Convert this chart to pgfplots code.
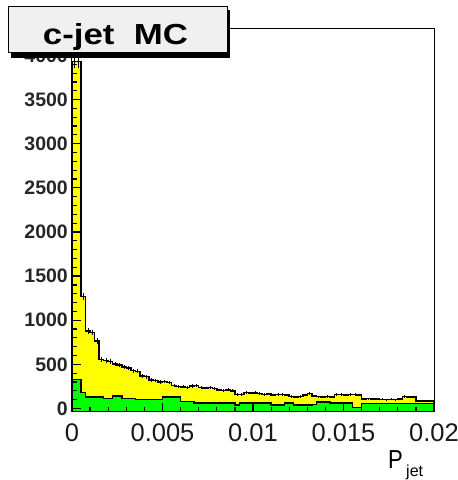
\documentclass[border=0pt]{standalone}
\usepackage{fontspec}
\setmainfont{Liberation Sans}
\usepackage{pgfplots}
\usepackage{pgfplotstable}
\pgfplotsset{compat=1.18}
\definecolor{rootyellow}{RGB}{255,255,0}
\definecolor{rootgreen}{RGB}{0,255,0}
\definecolor{boxgray}{RGB}{240,240,240}

\pgfplotstableread{
x y
0 -40
0 3930
0.00025 3930
0.0005 1270
0.00075 878
0.001 860
0.00125 765
0.0015 557
0.00175 545
0.002 530
0.00225 505
0.0025 495
0.00275 470
0.003 460
0.00325 430
0.0035 420
0.00375 370
0.004 360
0.00425 320
0.0045 315
0.00475 300
0.005 305
0.00525 295
0.0055 260
0.00575 250
0.006 245
0.00625 240
0.0065 255
0.00675 262
0.007 240
0.00725 232
0.0075 238
0.00775 228
0.008 210
0.00825 205
0.0085 212
0.00875 200
0.009 160
0.00925 158
0.0095 180
0.00975 175
0.01 178
0.01025 170
0.0105 160
0.01075 162
0.011 155
0.01125 160
0.0115 158
0.01175 150
0.012 135
0.01225 130
0.0125 136
0.01275 150
0.013 170
0.01325 140
0.0135 133
0.01375 130
0.014 135
0.01425 132
0.0145 160
0.01475 158
0.015 155
0.01525 160
0.0155 158
0.01575 150
0.016 110
0.01625 112
0.0165 108
0.01675 110
0.017 102
0.01725 100
0.0175 104
0.01775 100
0.018 105
0.01825 135
0.0185 132
0.01875 130
0.019 85
0.01925 83
0.0195 85
0.01975 82
0.02 -40
}\yellowdata

\pgfplotstableread{
x y
0 -40
0 330
0.0005 180
0.00075 130
0.00125 128
0.00175 115
0.00225 140
0.00275 115
0.0035 100
0.005 130
0.006 80
0.00675 64
0.009 38
0.00925 64
0.011 38
0.01175 64
0.01225 38
0.01325 45
0.0135 72
0.01425 64
0.0155 10
0.016 57
0.02 -40
}\greendata

\begin{document}
\begin{tikzpicture}
\useasboundingbox (0pt,0pt) rectangle (458pt,480pt);
\begin{axis}[
  at={(72pt,68pt)}, anchor=south west,
  width=362pt, height=383pt, scale only axis,
  xmin=0, xmax=0.02, ymin=-40, ymax=4300,
  axis on top,
  tick align=inside,
  xtick pos=left, ytick pos=left,
  xtick={0,0.005,0.01,0.015,0.02},
  xticklabels={0,0.005,0.01,0.015,0.02},
  ytick={0,500,...,4000},
  minor x tick num=4, minor y tick num=4,
  major tick length=9pt, minor tick length=5pt,
  scaled x ticks=false, scaled y ticks=false,
  /pgf/number format/assume math mode=true,
  /pgf/number format/1000 sep={},
  yticklabel style={font=\bfseries\fontsize{19.5}{19.5}\selectfont, anchor=east, inner sep=0pt, xshift=-4pt, text=black!85},
  xticklabel style={font=\fontsize{25.5}{25.5}\selectfont, anchor=north, inner sep=0pt, yshift=-11pt, text=black!90},
  axis line style={line width=1pt},
  every tick/.style={black, line width=1.2pt},
]
\addplot[const plot mark left, fill=rootyellow, draw=black, line width=1.5pt] table[x=x,y=y]{\yellowdata};
\addplot[draw=none, mark=none, forget plot, skip coords between index={0}{1}, skip coords between index={81}{82},
  error bars/.cd, y dir=both, y explicit, error mark=none,
  error bar style={draw=black, line width=0.6pt}]
  table[x expr=\thisrow{x}+0.000125, y=y, y error expr={1.1*sqrt(abs(\thisrow{y}))}]{\yellowdata};
\addplot[const plot mark left, fill=rootgreen, draw=black, line width=1.5pt] table[x=x,y=y]{\greendata};
\end{axis}
\fill[black] (11pt,422pt) rectangle (230pt,470pt);
\draw[fill=boxgray, line width=1pt] (8pt,427pt) rectangle (227pt,473pt);
\node[anchor=base, xscale=1.2, font=\bfseries\fontsize{29}{29}\selectfont, inner sep=0pt] at (115.5pt,435pt) {c-jet\ \ MC};
\node[anchor=base west, inner sep=0pt, font=\fontsize{26}{26}\selectfont, xscale=0.85] at (388pt,12pt) {P};
\node[anchor=base west, inner sep=0pt, font=\fontsize{16}{16}\selectfont] at (406pt,3pt) {jet};
\end{tikzpicture}
\end{document}
